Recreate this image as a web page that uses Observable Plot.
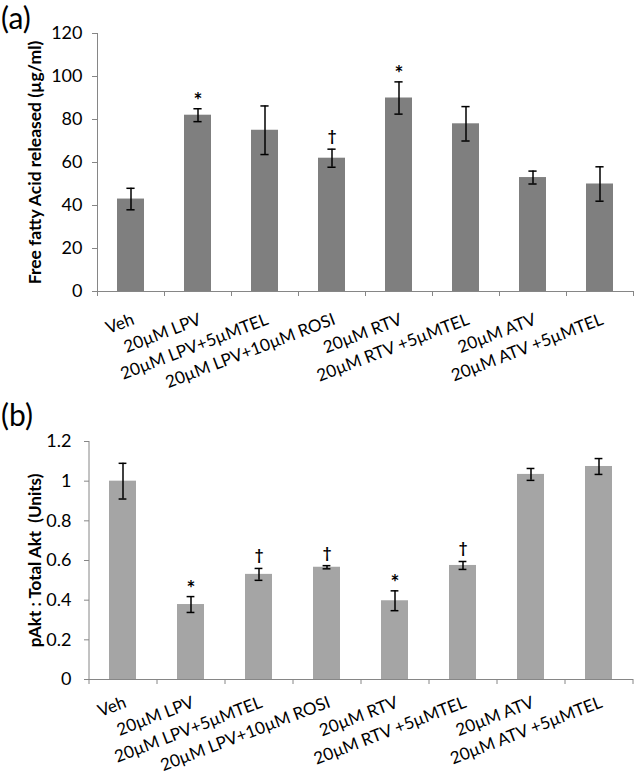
<!DOCTYPE html>
<html><head><meta charset="utf-8">
<script src="https://cdn.jsdelivr.net/npm/d3@7"></script>
<script src="https://cdn.jsdelivr.net/npm/@observablehq/plot@0.6"></script>
<style>
body{margin:0;background:#fff;font-family:Lato,sans-serif;}
#wrap{position:relative;width:638px;height:776px;overflow:hidden;}
.tag{position:absolute;left:1px;font-size:30px;line-height:1.2;font-family:Lato,sans-serif;color:#000;}
#a,#b{position:absolute;left:0;}
#a{top:0;} #b{top:390px;}
</style></head><body>
<div id="wrap">
<div id="b"></div>
<div id="a"></div>
<div class="tag" style="top:-1px">(a)</div>
<div class="tag" style="top:396px">(b)</div>
</div>
<script>
const categories = ["Veh","20µM LPV","20µM LPV+5µMTEL","20µM LPV+10µM ROSI","20µM RTV","20µM RTV +5µMTEL","20µM ATV","20µM ATV +5µMTEL"];
const ffaValues = [43, 82, 75, 62, 90, 78, 53, 50];
const ffaErrors = [5, 3, 11.3, 4.2, 7.5, 8, 3, 8];
const ffaMarks = ["", "*", "", "†", "*", "", "", ""];
const ffaTicks = [0, 20, 40, 60, 80, 100, 120];
const aktValues = [1.0, 0.378, 0.53, 0.566, 0.397, 0.575, 1.034, 1.074];
const aktErrors = [0.09, 0.04, 0.03, 0.008, 0.05, 0.02, 0.03, 0.04];
const aktMarks = ["", "*", "†", "†", "*", "†", "", ""];
const aktTicks = [0, 0.2, 0.4, 0.6, 0.8, 1, 1.2];

function panel({values, errors, marks, ticks, yMax, fill, title, height, mt, mb, ml, mr, titleDx, tickPad, titleSize, bg, labelDy}) {
  const data = categories.map((c, i) => ({c, v: values[i], e: errors[i], m: marks[i]}));
  const W = 638, n = categories.length;
  const step = (W - ml - mr) / n;
  const bandW = step * 0.4;
  const frameH = height - mt - mb;
  const axisColor = "#868686";
  const capInset = (bandW - 8) / 2;
  return Plot.plot({
    width: W, height,
    marginTop: mt, marginBottom: mb, marginLeft: ml, marginRight: mr,
    style: {fontFamily: "Lato, sans-serif", background: bg, color: "#000", overflow: "visible"},
    x: {type: "band", domain: categories, paddingInner: 0.6, paddingOuter: 0.3, axis: null},
    y: {domain: [0, yMax]},
    marks: [
      Plot.barY(data, {x: "c", y: "v", fill}),
      Plot.ruleY([0], {stroke: axisColor}),
      Plot.ruleX([categories[0]], {x: d => d, dx: -step / 2, stroke: axisColor, insetBottom: -5}),
      Plot.ruleX(categories, {x: d => d, dx: step / 2, stroke: axisColor, insetTop: frameH, insetBottom: -5}),
      Plot.ruleX(data, {x: "c", y1: d => d.v - d.e, y2: d => d.v + d.e, stroke: "#000", strokeWidth: 1.5}),
      Plot.tickY(data, {x: "c", y: d => d.v + d.e, stroke: "#000", strokeWidth: 1.5, insetLeft: capInset, insetRight: capInset}),
      Plot.tickY(data, {x: "c", y: d => d.v - d.e, stroke: "#000", strokeWidth: 1.5, insetLeft: capInset, insetRight: capInset}),
      Plot.text(data.filter(d => d.m === "*"), {x: "c", y: d => d.v + d.e, text: "m", dy: -1, lineAnchor: "bottom", fontWeight: "bold", fontSize: 21, fill: "#000"}),
      Plot.text(data.filter(d => d.m === "†"), {x: "c", y: d => d.v + d.e, text: "m", dy: -8, lineAnchor: "bottom", fontWeight: "bold", fontSize: 15, fill: "#000"}),
      Plot.axisY({ticks, tickFormat: d => String(d), tickSize: 5, tickPadding: tickPad, fontSize: 18, stroke: axisColor, fill: "#000", label: null}),
      Plot.text(categories, {x: d => d, frameAnchor: "bottom", text: d => d, rotate: -21, textAnchor: "end", lineAnchor: "top", dy: labelDy, fontSize: 17, fill: "#000"}),
      Plot.text([title], {frameAnchor: "left", rotate: -90, dx: titleDx, fontWeight: "bold", fontSize: titleSize, fill: "#000", lineAnchor: "middle", textAnchor: "middle"})
    ]
  });
}

document.getElementById("a").append(panel({
  values: ffaValues, errors: ffaErrors, marks: ffaMarks, ticks: ffaTicks, yMax: 120,
  fill: "#7f7f7f", title: "Free fatty Acid released (µg/ml)",
  height: 390, mt: 33, mb: 99, ml: 97, mr: 5, titleDx: -62, tickPad: 10, titleSize: 17.5, bg: "transparent", labelDy: 21
}));
document.getElementById("b").append(panel({
  values: aktValues, errors: aktErrors, marks: aktMarks, ticks: aktTicks, yMax: 1.2,
  fill: "#a5a5a5", title: "pAkt : Total Akt  (Units)",
  height: 386, mt: 51, mb: 97, ml: 89, mr: 5, titleDx: -54, tickPad: 13, titleSize: 17, bg: "#fff", labelDy: 16
}));
</script>
</body></html>
